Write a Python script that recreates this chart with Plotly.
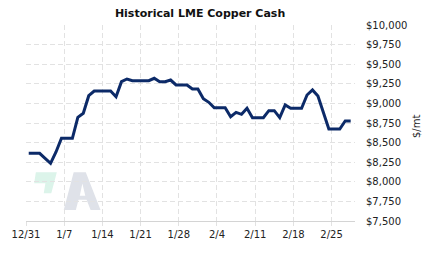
import pandas as pd
import plotly.graph_objects as go

# ---- data ----
start_date = "2022-12-31"
copper_cash = [
    8363, 8363, 8363, 8300, 8236, 8380, 8555, 8555, 8555, 8823,
    8874, 9098, 9158, 9158, 9158, 9158, 9085, 9277, 9311, 9290,
    9290, 9290, 9290, 9320, 9277, 9277, 9298, 9235, 9235, 9235,
    9184, 9184, 9060, 9014, 8945, 8945, 8945, 8830, 8886, 8861,
    8938, 8818, 8818, 8818, 8907, 8907, 8818, 8980, 8938, 8938,
    8938, 9107, 9171, 9094, 8890, 8673, 8673, 8673, 8776, 8776,
]
dates = pd.date_range(start_date + " 12:00", periods=len(copper_cash), freq="D")

x_tick_dates = ["2022-12-31", "2023-01-07", "2023-01-14", "2023-01-21", "2023-01-28",
                "2023-02-04", "2023-02-11", "2023-02-18", "2023-02-25"]
x_tick_labels = ["12/31", "1/7", "1/14", "1/21", "1/28", "2/4", "2/11", "2/18", "2/25"]
y_tick_vals = [7500, 7750, 8000, 8250, 8500, 8750, 9000, 9250, 9500, 9750, 10000]
y_tick_labels = ["$7,500", "$7,750", "$8,000", "$8,250", "$8,500", "$8,750",
                 "$9,000", "$9,250", "$9,500", "$9,750", "$10,000"]

W, H = 423, 257
ML, MR, MT, MB = 21, 68, 25, 36
PW, PH = W - ML - MR, H - MT - MB

def px(x, y):
    return ((x - ML) / PW, (H - MB - y) / PH)

def path(points):
    s = ""
    for i, (x, y) in enumerate(points):
        a, b = px(x, y)
        s += ("M" if i == 0 else "L") + f"{a:.4f},{b:.4f} "
    return s + "Z"

# watermark logo (pixel outlines)
teal = [(31, 172.3), (52.3, 172.3), (46.7, 193.3), (39, 193.3), (40.7, 183.3), (29.3, 183.3)]
a_outer = [(59.3, 210), (69.4, 172.3), (81.7, 172.3), (96.7, 210), (86.6, 210),
           (82.5, 199.8), (74.3, 199.8), (71.6, 210)]
a_hole = [(78.2, 183.5), (81.2, 195.7), (75.6, 195.7)]

font = "DejaVu Sans, Verdana, sans-serif"
grid = dict(showgrid=True, gridcolor="#e2e2e2", griddash="5px,3px", gridwidth=1, zeroline=False)

fig = go.Figure()
fig.add_trace(go.Scatter(
    x=dates, y=copper_cash, mode="lines",
    line=dict(color="#0c2a68", width=3),
    hoverinfo="skip",
))

fig.update_layout(
    width=W, height=H,
    margin=dict(l=ML, r=MR, t=MT, b=MB),
    paper_bgcolor="white", plot_bgcolor="white",
    showlegend=False,
    title=dict(text="<b>Historical LME Copper Cash</b>", xref="container", x=0.473,
               y=1 - 13 / H, yanchor="middle", xanchor="center",
               font=dict(family=font, size=11, color="#111")),
    xaxis=dict(
        type="date",
        range=["2022-12-31 00:00", "2023-03-01 07:00"],
        tickvals=x_tick_dates, ticktext=x_tick_labels,
        showline=True, linecolor="#d4d4d4", linewidth=1,
        ticks="outside", ticklen=4, tickcolor="#e2e2e2",
        tickfont=dict(family=font, size=10, color="#222"),
        **grid,
    ),
    yaxis=dict(
        range=[7500, 10000], side="right",
        tickvals=y_tick_vals, ticktext=y_tick_labels,
        showline=False, ticks="", ticklabelstandoff=10,
        tickfont=dict(family=font, size=10, color="#222"),
        **grid,
    ),
    shapes=[
        dict(type="path", xref="paper", yref="paper", path=path(teal),
             fillcolor="#dcf4ea", line=dict(width=0), layer="below"),
        dict(type="path", xref="paper", yref="paper",
             path=path(a_outer) + " " + path(a_hole),
             fillcolor="#dfe2e9", line=dict(width=0), layer="below"),
    ],
    annotations=[
        dict(text="$/mt", xref="paper", yref="paper",
             x=(417 - ML) / PW, y=(H - MB - 127) / PH, textangle=-90,
             showarrow=False, xanchor="center", yanchor="middle",
             font=dict(family=font, size=10, color="#222")),
    ],
)

fig.write_html("out.html")
